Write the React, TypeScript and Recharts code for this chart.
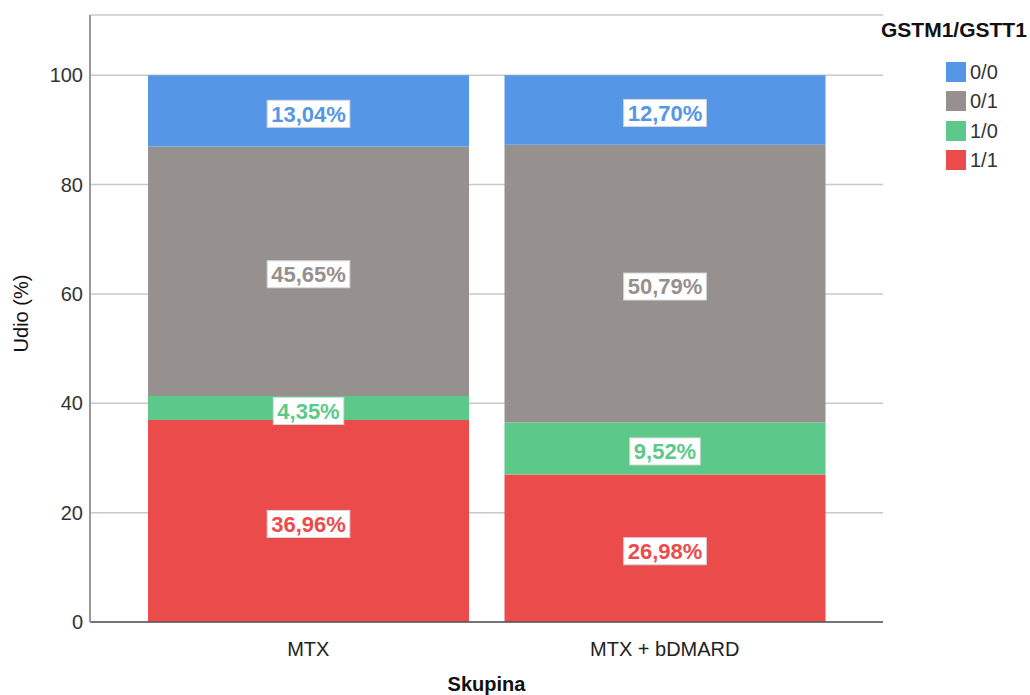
import React from "react";
import { BarChart, Bar, XAxis, YAxis, CartesianGrid, LabelList, Legend, Label } from "recharts";

const categories = ["MTX", "MTX + bDMARD"];
const g11 = [36.96, 26.98];
const g10 = [4.35, 9.52];
const g01 = [45.65, 50.79];
const g00 = [13.04, 12.7];
const yTicks = [0, 20, 40, 60, 80, 100];

const seriesDefs = [
  { key: "g11", name: "1/1", color: "#EC4B4C", values: g11 },
  { key: "g10", name: "1/0", color: "#5CC98A", values: g10 },
  { key: "g01", name: "0/1", color: "#96908E", values: g01 },
  { key: "g00", name: "0/0", color: "#5596E6", values: g00 },
];

const data = categories.map((c, i) => {
  const row: any = { name: c };
  seriesDefs.forEach((s) => (row[s.key] = s.values[i]));
  return row;
});

const FONT = "Liberation Sans, Arial, sans-serif";

function textWidth(s: string, fs: number) {
  let w = 0;
  for (const ch of s) {
    if (ch === ",") w += 0.278;
    else if (ch === "%") w += 0.889;
    else w += 0.556;
  }
  return w * fs;
}

const makeLabel = (color: string) => (props: any) => {
  const { x, y, width, height, value } = props;
  const txt = Number(value).toFixed(2).replace(".", ",") + "%";
  const fs = 22;
  const tw = textWidth(txt, fs);
  const bw = tw + 8;
  const bh = 27;
  const cx = x + width / 2;
  const cy = y + height / 2 + 3;
  return (
    <g>
      <rect x={cx - bw / 2} y={cy - bh / 2} width={bw} height={bh} fill="#ffffff" stroke="#d8d8d8" strokeWidth={1} />
      <text x={cx} y={cy} dy="0.36em" textAnchor="middle" fill={color} fontSize={fs} fontWeight="bold" fontFamily={FONT}>
        {txt}
      </text>
    </g>
  );
};

const legendOrder = ["0/0", "0/1", "1/0", "1/1"];

const LegendContent = () => (
  <div style={{ fontFamily: FONT, color: "#333" }}>
    <div style={{ position: "absolute", left: 881, top: 18, fontWeight: "bold", fontSize: 21, lineHeight: "24px", color: "#111", whiteSpace: "nowrap" }}>
      GSTM1/GSTT1
    </div>
    {legendOrder.map((n, i) => {
      const s = seriesDefs.find((d) => d.name === n)!;
      return (
        <div key={n} style={{ position: "absolute", left: 946, top: 61 + i * 29.3, height: 22, display: "flex", alignItems: "center", whiteSpace: "nowrap" }}>
          <div style={{ width: 20, height: 20, background: s.color, marginRight: 4 }} />
          <span style={{ fontSize: 20, lineHeight: "22px" }}>{n}</span>
        </div>
      );
    })}
  </div>
);

export default function App() {
  return (
    <div style={{ position: "absolute", left: 0, top: 0, width: 1030, height: 695, background: "#fff", overflow: "hidden" }}>
      <BarChart
        width={1030}
        height={695}
        data={data}
        margin={{ top: 15, right: 147, bottom: 0, left: 0 }}
      >
        <CartesianGrid vertical={false} stroke="#c8c8c8" strokeWidth={1.5} />
        <XAxis
          dataKey="name"
          height={73}
          padding={{ left: 40, right: 40 }}
          tickLine={false}
          tickMargin={14}
          axisLine={{ stroke: "#555", strokeWidth: 1.5 }}
          tick={{ fill: "#222", fontSize: 20, fontFamily: FONT }}
        >
          <Label
            content={(p: any) => {
              const vb = p.viewBox;
              const cx = vb.x + vb.width / 2;
              return (
                <text x={cx} y={691} textAnchor="middle" fill="#111" fontSize={20} fontWeight="bold" fontFamily={FONT}>
                  Skupina
                </text>
              );
            }}
          />
        </XAxis>
        <YAxis
          width={90}
          domain={[0, 111]}
          ticks={yTicks}
          tickLine={false}
          tickMargin={1}
          axisLine={{ stroke: "#999", strokeWidth: 2 }}
          tick={{ fill: "#333", fontSize: 20, fontFamily: FONT }}
          allowDataOverflow
        >
          <Label
            content={(p: any) => {
              const vb = p.viewBox;
              const cy = vb.y + vb.height / 2 - 5;
              return (
                <text x={21} y={cy} dy="0.36em" transform={`rotate(-90 21 ${cy})`} textAnchor="middle" fill="#111" fontSize={20} fontFamily={FONT}>
                  Udio (%)
                </text>
              );
            }}
          />
        </YAxis>
        <Legend content={<LegendContent />} wrapperStyle={{ position: "absolute", left: 0, top: 0, width: 0, height: 0 }} />
        {seriesDefs.map((s) => (
          <Bar key={s.key} dataKey={s.key} name={s.name} stackId="a" fill={s.color} barSize={321} isAnimationActive={false}>
            <LabelList dataKey={s.key} content={makeLabel(s.color)} />
          </Bar>
        ))}
      </BarChart>
    </div>
  );
}
